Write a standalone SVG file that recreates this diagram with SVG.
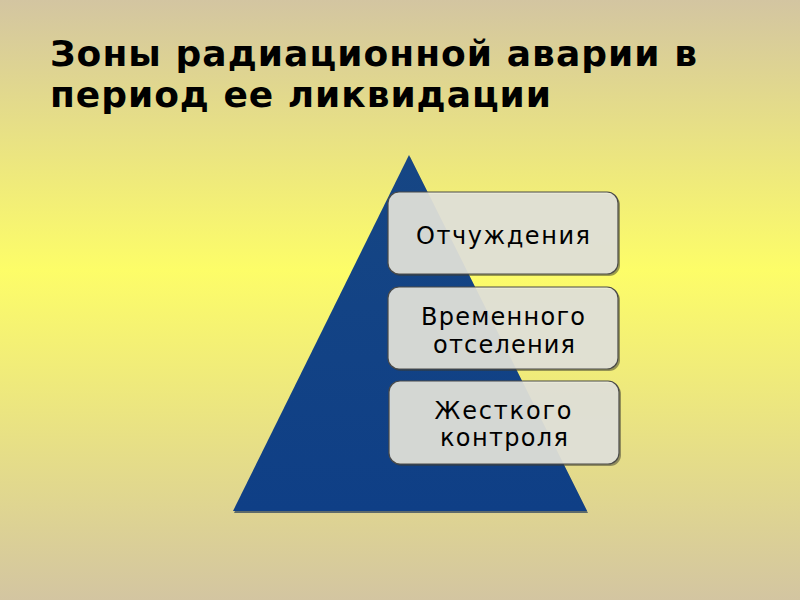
<svg xmlns="http://www.w3.org/2000/svg" width="800" height="600" viewBox="0 0 800 600">
  <defs>
    <linearGradient id="bg" x1="0" y1="0" x2="0" y2="1">
      <stop offset="0" stop-color="#d3c5a1"/>
      <stop offset="0.45" stop-color="#fdfd68"/>
      <stop offset="1" stop-color="#d3c5a1"/>
    </linearGradient>
    <linearGradient id="tri" x1="0" y1="0" x2="0" y2="1">
      <stop offset="0" stop-color="#164684"/>
      <stop offset="1" stop-color="#0f3f86"/>
    </linearGradient>
  </defs>
  <style>
    .title { font-family: "DejaVu Sans", sans-serif; font-weight: bold; font-size: 36px; fill: #000; }
    .box { fill: #e8e8e0; fill-opacity: 0.9; stroke: #4a4a48; stroke-width: 1.2; }
    .shadow { fill: #3a3a30; fill-opacity: 0.5; }
    .lbl { font-family: "DejaVu Sans", sans-serif; font-size: 24px; fill: #000; text-anchor: middle; }
  </style>
  <rect x="0" y="0" width="800" height="600" fill="url(#bg)"/>
  <g id="title">
    <text class="title" x="50" y="66" textLength="647" lengthAdjust="spacing">Зоны радиационной аварии в</text>
    <text class="title" x="50" y="107" textLength="501" lengthAdjust="spacing">период ее ликвидации</text>
  </g>
  <g id="pyramid">
    <polygon points="410,157 588,513 234,513" fill="#3c5060" opacity="0.8"/>
    <polygon points="409,155 587,511 233,511" fill="url(#tri)"/>
  </g>
  <g id="zone1">
    <rect class="shadow" x="390" y="194" width="230" height="82" rx="11"/>
    <rect class="box" x="388" y="192" width="230" height="82" rx="11"/>
    <text class="lbl" x="503" y="244" textLength="174" lengthAdjust="spacing">Отчуждения</text>
  </g>
  <g id="zone2">
    <rect class="shadow" x="390" y="289" width="230" height="82" rx="11"/>
    <rect class="box" x="388" y="287" width="230" height="82" rx="11"/>
    <text class="lbl" x="503" y="325" textLength="164" lengthAdjust="spacing">Временного</text>
    <text class="lbl" x="504" y="353" textLength="142" lengthAdjust="spacing">отселения</text>
  </g>
  <g id="zone3">
    <rect class="shadow" x="391" y="383" width="230" height="83" rx="11"/>
    <rect class="box" x="389" y="381" width="230" height="83" rx="11"/>
    <text class="lbl" x="503" y="419" textLength="137" lengthAdjust="spacing">Жесткого</text>
    <text class="lbl" x="504" y="446" textLength="128" lengthAdjust="spacing">контроля</text>
  </g>
  <g id="connectors"/>
</svg>
